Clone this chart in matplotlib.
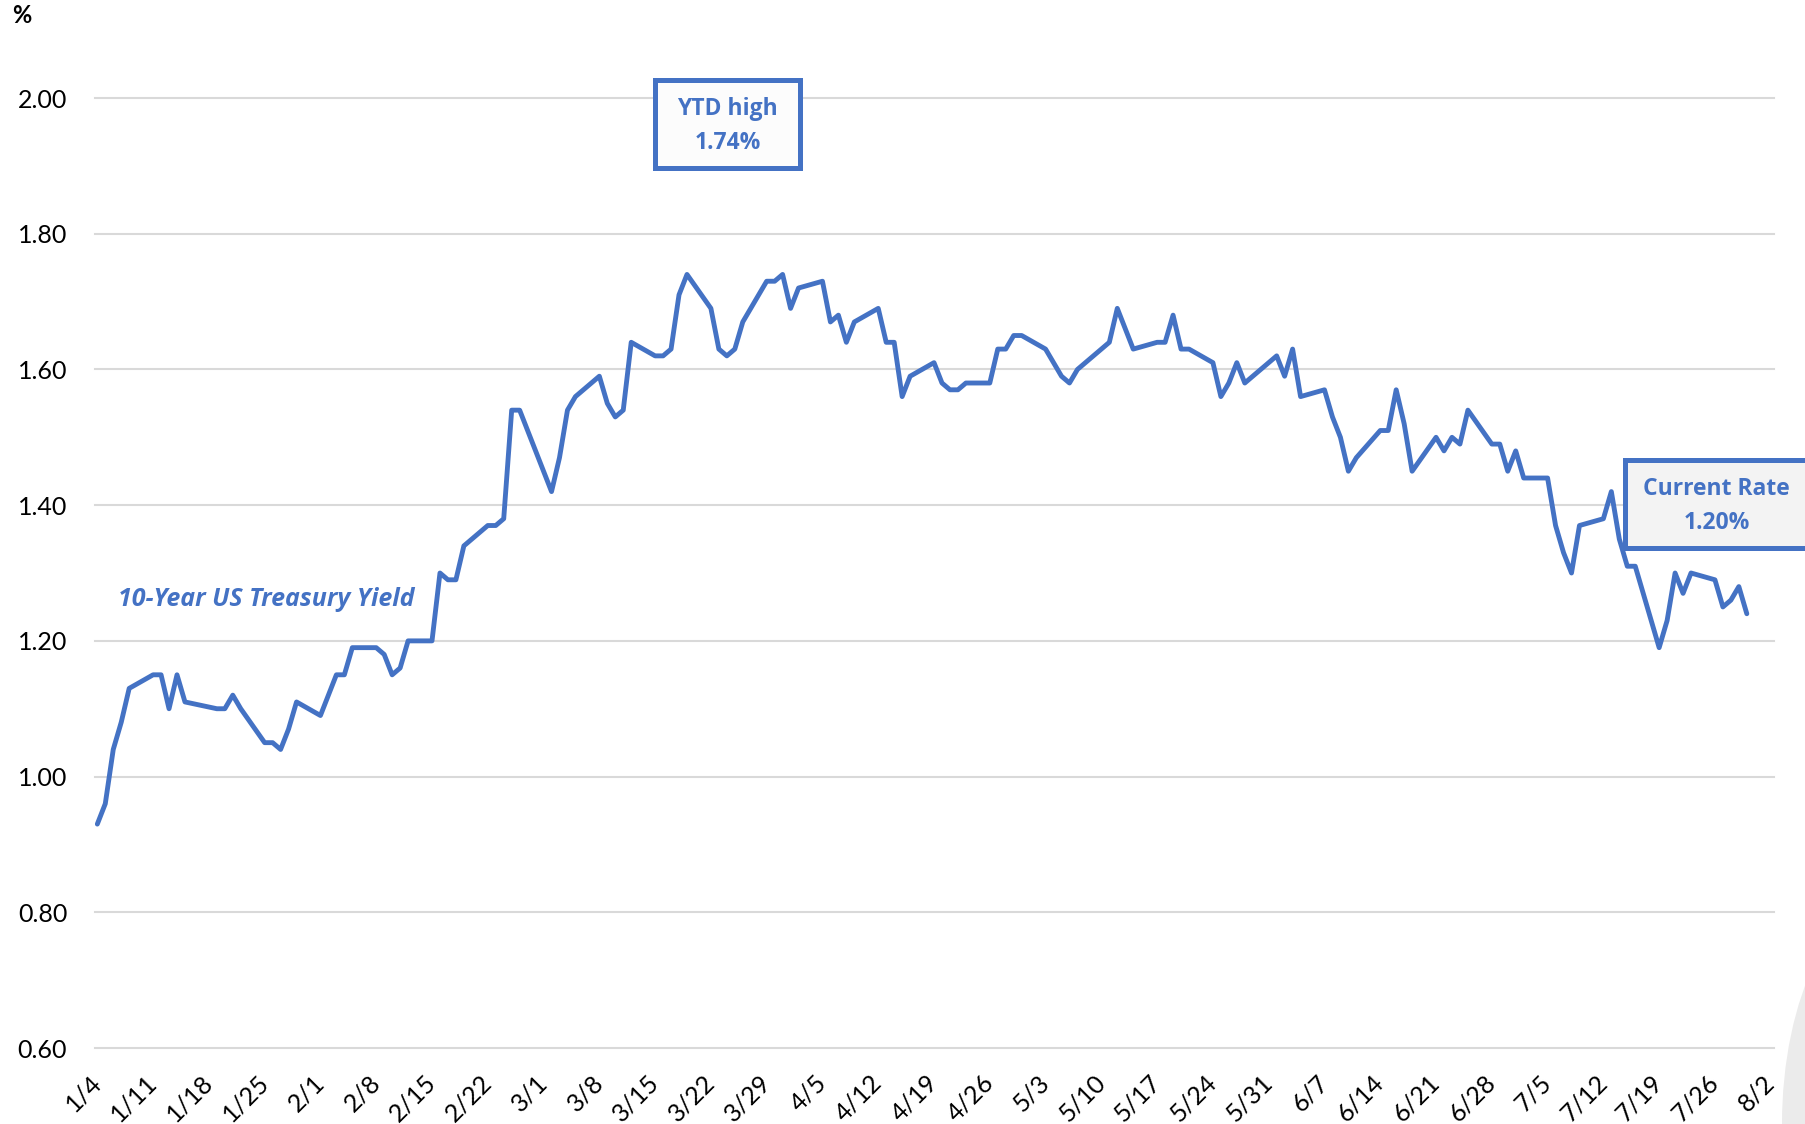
import matplotlib
matplotlib.use("Agg")
import matplotlib.pyplot as plt
from matplotlib.patches import Rectangle, Ellipse
import pandas as pd

plt.rcParams['font.family'] = ['Lato', 'DejaVu Sans']

# ---- data (2021 daily 10-year yield, %) ----
dates = [
    "1/4", "1/5", "1/6", "1/7", "1/8", "1/11", "1/12", "1/13", "1/14", "1/15",
    "1/19", "1/20", "1/21", "1/22", "1/25", "1/26", "1/27", "1/28", "1/29",
    "2/1", "2/2", "2/3", "2/4", "2/5", "2/8", "2/9", "2/10", "2/11", "2/12",
    "2/15", "2/16", "2/17", "2/18", "2/19", "2/22", "2/23", "2/24", "2/25", "2/26",
    "3/1", "3/2", "3/3", "3/4", "3/5", "3/8", "3/9", "3/10", "3/11", "3/12",
    "3/15", "3/16", "3/17", "3/18", "3/19", "3/22", "3/23", "3/24", "3/25", "3/26",
    "3/29", "3/30", "3/31", "4/1", "4/2", "4/5", "4/6", "4/7", "4/8", "4/9",
    "4/12", "4/13", "4/14", "4/15", "4/16", "4/19", "4/20", "4/21", "4/22", "4/23",
    "4/26", "4/27", "4/28", "4/29", "4/30", "5/3", "5/4", "5/5", "5/6", "5/7",
    "5/10", "5/11", "5/12", "5/13", "5/14", "5/17", "5/18", "5/19", "5/20", "5/21",
    "5/24", "5/25", "5/26", "5/27", "5/28", "6/1", "6/2", "6/3", "6/4",
    "6/7", "6/8", "6/9", "6/10", "6/11", "6/14", "6/15", "6/16", "6/17", "6/18",
    "6/21", "6/22", "6/23", "6/24", "6/25", "6/28", "6/29", "6/30", "7/1", "7/2",
    "7/5", "7/6", "7/7", "7/8", "7/9", "7/12", "7/13", "7/14", "7/15", "7/16",
    "7/19", "7/20", "7/21", "7/22", "7/23", "7/26", "7/27", "7/28", "7/29", "7/30",
]
yields = [
    0.93, 0.96, 1.04, 1.08, 1.13, 1.15, 1.15, 1.10, 1.15, 1.11,
    1.10, 1.10, 1.12, 1.10, 1.05, 1.05, 1.04, 1.07, 1.11,
    1.09, 1.12, 1.15, 1.15, 1.19, 1.19, 1.18, 1.15, 1.16, 1.20,
    1.20, 1.30, 1.29, 1.29, 1.34, 1.37, 1.37, 1.38, 1.54, 1.54,
    1.45, 1.42, 1.47, 1.54, 1.56, 1.59, 1.55, 1.53, 1.54, 1.64,
    1.62, 1.62, 1.63, 1.71, 1.74, 1.69, 1.63, 1.62, 1.63, 1.67,
    1.73, 1.73, 1.74, 1.69, 1.72, 1.73, 1.67, 1.68, 1.64, 1.67,
    1.69, 1.64, 1.64, 1.56, 1.59, 1.61, 1.58, 1.57, 1.57, 1.58,
    1.58, 1.63, 1.63, 1.65, 1.65, 1.63, 1.61, 1.59, 1.58, 1.60,
    1.63, 1.64, 1.69, 1.66, 1.63, 1.64, 1.64, 1.68, 1.63, 1.63,
    1.61, 1.56, 1.58, 1.61, 1.58, 1.62, 1.59, 1.63, 1.56,
    1.57, 1.53, 1.50, 1.45, 1.47, 1.51, 1.51, 1.57, 1.52, 1.45,
    1.50, 1.48, 1.50, 1.49, 1.54, 1.49, 1.49, 1.45, 1.48, 1.44,
    1.44, 1.37, 1.33, 1.30, 1.37, 1.38, 1.42, 1.35, 1.31, 1.31,
    1.19, 1.23, 1.30, 1.27, 1.30, 1.29, 1.25, 1.26, 1.28, 1.24,
]
year = 2021
y_ticks = [0.60, 0.80, 1.00, 1.20, 1.40, 1.60, 1.80, 2.00]
tick_start, tick_end = "1/4", "8/2"
series_label = "10-Year US Treasury Yield"
ytd_lines = ["YTD high", "1.74%"]
current_lines = ["Current Rate", "1.20%"]

def to_date(s):
    m, d = s.split("/")
    return pd.Timestamp(year=year, month=int(m), day=int(d))

x = [to_date(s) for s in dates]
blue = "#4472C4"
ann_font = ["Open Sans", "DejaVu Sans"]

fig = plt.figure(figsize=(18.06, 11.24), dpi=100)
ax = fig.add_axes([0.0526, 0.0676, 0.9297, 0.8452])

ax.plot(x, yields, color=blue, lw=3.5, solid_joinstyle="round",
        solid_capstyle="round", zorder=3)

t0, t1 = to_date(tick_start), to_date(tick_end)
ax.set_xlim(t0 - pd.Timedelta(hours=7), t1 + pd.Timedelta(hours=10))
ax.set_ylim(y_ticks[0], y_ticks[-1])
ax.set_yticks(y_ticks)
ax.set_yticklabels([f"{v:.2f}" for v in y_ticks])
xt = pd.date_range(t0, t1, freq="7D")
ax.set_xticks(xt)
ax.set_xticklabels([f"{d.month}/{d.day}" for d in xt], rotation=45,
                   ha="right", va="center", rotation_mode="anchor")

ax.grid(axis="y", color="#D9D9D9", lw=1.5)
for gl in ax.get_ygridlines():
    gl.set_clip_on(False)
ax.set_axisbelow(True)
for sp in ax.spines.values():
    sp.set_visible(False)
ax.tick_params(axis="both", length=0, labelsize=18, colors="black")
ax.tick_params(axis="y", pad=20)
ax.tick_params(axis="x", pad=22)

# series label
ax.text(0.1018, 0.4726, series_label, transform=ax.transAxes, color=blue,
        fontsize=18, fontweight="bold", fontstyle="italic", ha="center", va="center",
        family=ann_font)

# YTD high box
ax.add_patch(Rectangle((0.3338, 0.9262), 0.0858, 0.0928, transform=ax.transAxes,
                       facecolor="#FCFCFC", edgecolor=blue, lw=3.6, clip_on=False, zorder=5))
ax.text(0.3767, 0.9880, ytd_lines[0], transform=ax.transAxes, color=blue, fontsize=16.5,
        fontweight="bold", ha="center", va="center", zorder=6, clip_on=False, family=ann_font)
ax.text(0.3767, 0.9530, ytd_lines[1], transform=ax.transAxes, color=blue, fontsize=16.5,
        fontweight="bold", ha="center", va="center", zorder=6, clip_on=False, family=ann_font)

# Current rate box
ax.add_patch(Rectangle((0.9110, 0.5262), 0.2, 0.0928, transform=ax.transAxes,
                       facecolor="#F3F3F3", edgecolor=blue, lw=3.6, clip_on=False, zorder=5))
ax.text(0.9659, 0.5885, current_lines[0], transform=ax.transAxes, color=blue, fontsize=16.5,
        fontweight="bold", ha="center", va="center", zorder=6, clip_on=False, family=ann_font)
ax.text(0.9659, 0.5530, current_lines[1], transform=ax.transAxes, color=blue, fontsize=16.5,
        fontweight="bold", ha="center", va="center", zorder=6, clip_on=False, family=ann_font)

# unit label
fig.text(0.0122, 0.9858, "%", fontsize=17, fontweight="bold", ha="center", va="center")

# light grey shape at bottom-right corner
fig.patches.append(Ellipse((1900 / 1806, 0.0), 236 / 1806, 466 / 1124,
                           transform=fig.transFigure, facecolor="#EBEBEB",
                           edgecolor="none", zorder=-1))

fig.savefig("out.png", dpi=100)
